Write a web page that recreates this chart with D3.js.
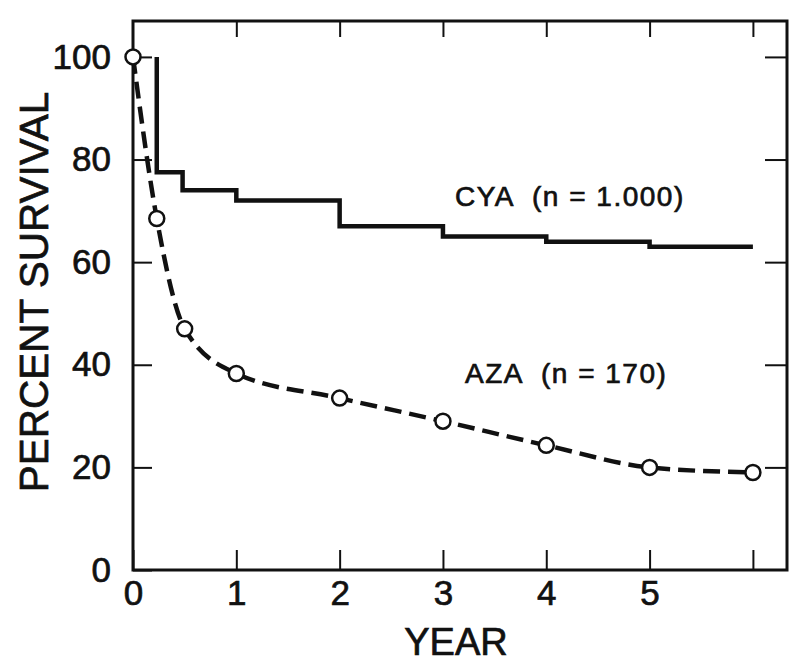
<!DOCTYPE html>
<html>
<head>
<meta charset="utf-8">
<script src="https://cdn.jsdelivr.net/npm/d3@7"></script>
<style>
   body { margin: 0; background: #fff; }
   svg { display: block; font-family: "Liberation Sans", Arial, Helvetica, sans-serif; }
   text { fill: #111; stroke: #111; stroke-width: 0.7px; }
</style>
</head>
<body>
<svg></svg>
<script>
var width = 800;
var height = 666;

// AZA (dashed, circles)
var azaYear = [0, 0.23, 0.5, 1, 2, 3, 4, 5, 6];
var azaSurvival = [100, 68.5, 47, 38.3, 33.5, 29, 24.3, 20, 19];

// CYA (solid step line), value holds from that year to the next point
var cyaYear = [0.23, 0.23, 0.48, 1, 2, 3, 4, 5, 6];
var cyaSurvival = [100, 77.5, 74, 72, 67, 65, 64, 63, 63];

var yTicks = [0, 20, 40, 60, 80, 100];
var xTicks = [0, 1, 2, 3, 4, 5, 6];
var xLabels = ['0', '1', '2', '3', '4', '5', ''];

var labels = [
   { text: 'CYA  (n = 1.000)', x: 455, y: 206 },
   { text: 'AZA  (n = 170)', x: 465, y: 383 }
];

var svg = d3.select('svg')
   .attr('width', width)
   .attr('height', height)
;

var x = d3.scaleLinear().domain([0, 6.33]).range([133, 787]);
var y = d3.scaleLinear().domain([0, 107]).range([570, 21]);

var g = svg.append('g');

// frame
g.append('rect')
   .attr('x', x.range()[0])
   .attr('y', y.range()[1])
   .attr('width', x.range()[1] - x.range()[0])
   .attr('height', y.range()[0] - y.range()[1])
   .attr('fill', 'none')
   .attr('stroke', '#111')
   .attr('stroke-width', 3)
;

function styleAxis(sel, fontSize) {
   sel.select('.domain').remove();
   sel.selectAll('.tick line').attr('stroke', '#111').attr('stroke-width', 2);
   sel.selectAll('.tick text')
      .attr('fill', '#111')
      .style('font-size', fontSize + 'px')
      .style('font-family', '"Liberation Sans", Arial, Helvetica, sans-serif');
}

g.append('g')
   .attr('transform', 'translate(' + x.range()[0] + ',0)')
   .call(d3.axisLeft(y).tickValues(yTicks).tickSizeInner(-19).tickSizeOuter(0).tickPadding(22))
   .call(styleAxis, 35)
;

g.append('g')
   .attr('transform', 'translate(' + x.range()[1] + ',0)')
   .call(d3.axisRight(y).tickValues(yTicks.slice(1)).tickSizeInner(-22).tickSizeOuter(0).tickFormat(''))
   .call(styleAxis, 35)
;

g.append('g')
   .attr('transform', 'translate(0,' + y.range()[0] + ')')
   .call(d3.axisBottom(x).tickValues(xTicks).tickSizeInner(-20).tickSizeOuter(0).tickPadding(10)
      .tickFormat(function(d, i) { return xLabels[i]; }))
   .call(styleAxis, 35)
;

g.append('g')
   .attr('transform', 'translate(0,' + y.range()[1] + ')')
   .call(d3.axisTop(x).tickValues(xTicks.slice(1)).tickSizeInner(-16).tickSizeOuter(0).tickFormat(''))
   .call(styleAxis, 35)
;

// axis titles
svg.append('text')
   .attr('x', 456)
   .attr('y', 655)
   .attr('text-anchor', 'middle')
   .style('font-size', '38px')
   .text('YEAR')
;

svg.append('text')
   .attr('transform', 'translate(48,292) rotate(-90)')
   .attr('text-anchor', 'middle')
   .style('font-size', '40.5px')
   .text('PERCENT SURVIVAL')
;

// CYA step line
var cya = cyaYear.map(function(d, i) { return [d, cyaSurvival[i]]; });
g.append('path')
   .datum(cya)
   .attr('fill', 'none')
   .attr('stroke', '#111')
   .attr('stroke-width', 4.5)
   .attr('d', d3.line()
      .x(function(d) { return x(d[0]); })
      .y(function(d) { return y(d[1]); })
      .curve(d3.curveStepAfter))
;

// AZA dashed curve
var aza = azaYear.map(function(d, i) { return [d, azaSurvival[i]]; });
g.append('path')
   .datum(aza)
   .attr('fill', 'none')
   .attr('stroke', '#111')
   .attr('stroke-width', 4.5)
   .attr('stroke-dasharray', '17,8')
   .attr('d', d3.line()
      .x(function(d) { return x(d[0]); })
      .y(function(d) { return y(d[1]); })
      .curve(d3.curveMonotoneX))
;

g.selectAll('circle')
   .data(aza)
   .enter()
   .append('circle')
   .attr('cx', function(d) { return x(d[0]); })
   .attr('cy', function(d) { return y(d[1]); })
   .attr('r', 7.5)
   .attr('fill', '#fff')
   .attr('stroke', '#111')
   .attr('stroke-width', 2.5)
;

svg.selectAll('text.label')
   .data(labels)
   .enter()
   .append('text')
   .attr('class', 'label')
   .attr('x', function(d) { return d.x; })
   .attr('y', function(d) { return d.y; })
   .style('font-size', '28px')
   .style('letter-spacing', '1.5px')
   .style('white-space', 'pre')
   .text(function(d) { return d.text; })
;
</script>
</body>
</html>
